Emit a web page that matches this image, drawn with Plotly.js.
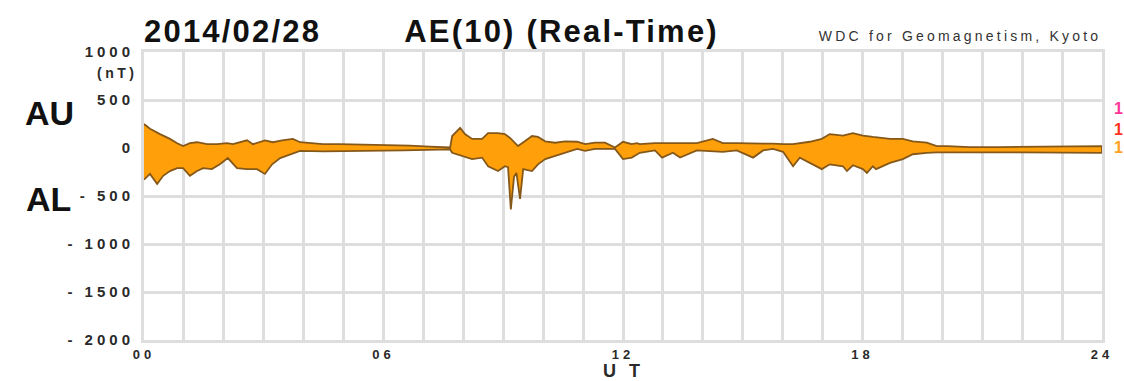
<!DOCTYPE html>
<html>
<head>
<meta charset="utf-8">
<script src="https://cdn.plot.ly/plotly-3.0.1.min.js"></script>
<style>
html,body{margin:0;padding:0;background:#fff;}
#chart{width:1124px;height:381px;}
#chart g.annotation[data-index="0"] text,
#chart g.annotation[data-index="1"] text{letter-spacing:2.2px;}
#chart g.annotation[data-index="2"] text{letter-spacing:3.2px;}
#chart g.annotation[data-index="3"] text{letter-spacing:3.5px;}
#chart g.annotation[data-index="9"] text{letter-spacing:4px;}
#chart g.ytick text, #chart g.xtick text{letter-spacing:4px;}
</style>
</head>
<body>
<div id="chart"></div>
<script>
// AU (upper envelope), hours UT and nT
const auHours = [0.00,0.15,0.40,0.65,0.83,0.98,1.15,1.33,1.58,1.83,2.08,2.23,2.58,2.73,3.03,3.23,3.46,3.73,3.91,4.08,4.48,4.91,5.41,6.16,6.66,7.16,7.67,7.72,7.92,8.04,8.22,8.47,8.62,8.87,9.04,9.17,9.37,9.54,9.72,9.87,10.05,10.30,10.55,10.85,11.05,11.30,11.55,11.80,12.00,12.22,12.35,12.42,12.80,13.25,13.43,13.85,14.25,14.50,14.85,15.26,15.51,15.76,16.01,16.26,16.68,16.98,17.18,17.51,17.76,18.01,18.26,18.69,19.01,19.26,19.61,19.86,20.12,20.69,21.44,22.19,22.95,23.45,24.00];
const auValues = [250,200,145,95,50,20,50,60,40,40,50,40,80,40,80,60,80,95,60,55,40,40,35,35,25,15,5,125,210,145,95,95,155,155,145,105,20,70,125,115,70,55,70,65,40,55,55,5,65,40,50,40,50,50,50,50,95,50,50,50,50,45,40,40,65,95,145,130,155,130,115,95,95,70,55,20,20,10,10,15,15,20,20];
// AL (lower envelope), hours UT and nT
const alHours = [0.00,0.15,0.33,0.48,0.65,0.83,0.98,1.15,1.33,1.48,1.70,1.90,2.10,2.33,2.58,2.83,3.03,3.21,3.41,3.66,3.91,4.50,5.50,6.50,7.20,7.67,7.72,8.22,8.47,8.62,8.87,9.04,9.12,9.19,9.27,9.33,9.42,9.50,9.72,9.87,10.05,10.30,10.55,10.85,11.05,11.30,11.80,12.00,12.22,12.42,12.80,12.98,13.25,13.43,13.85,14.50,14.85,15.26,15.51,15.76,16.01,16.26,16.43,16.51,16.68,16.98,17.18,17.51,17.61,17.76,18.01,18.11,18.26,18.34,18.69,19.01,19.26,19.61,19.86,20.12,21.00,22.00,23.00,24.00];
const alValues = [-330,-270,-375,-290,-240,-210,-210,-290,-240,-210,-220,-170,-105,-210,-220,-220,-270,-170,-105,-65,-30,-35,-30,-25,-20,-15,-50,-115,-100,-190,-240,-190,-200,-640,-300,-260,-530,-220,-240,-170,-115,-85,-50,-10,-30,-10,-10,-115,-100,-50,-25,-100,-50,-100,-25,-40,-25,-100,-25,-10,-40,-190,-100,-115,-155,-220,-170,-190,-240,-180,-220,-260,-190,-220,-155,-115,-65,-50,-45,-40,-45,-45,-45,-50];

const yTickVals = [-2000,-1500,-1000,-500,0,500,1000];
const yTickText = ['- 2000','- 1500','- 1000','- 500','0','500','1000'];
const xTickVals = Array.from({length:25},(_,i)=>i);
const xTickText = xTickVals.map(h => (h % 6 === 0 ? String(h).padStart(2,'0') : ''));

const polyX = auHours.concat(alHours.slice().reverse());
const polyY = auValues.concat(alValues.slice().reverse());

const FONT = 'Liberation Sans, Arial, Helvetica, sans-serif';

const traces = [{
  x: polyX, y: polyY, type: 'scatter', mode: 'lines',
  fill: 'toself', fillcolor: '#ffa00a',
  line: {color: '#85581a', width: 1.8, shape: 'linear'},
  hoverinfo: 'skip', showlegend: false
}];

const grid = '#dedede';
function ann(text, x, xshift, yshift, xanchor, size, color) {
  return {text: text, xref: 'paper', yref: 'paper', x: x, y: 1.0, xshift: xshift, yshift: yshift,
          xanchor: xanchor, yanchor: 'middle', showarrow: false, borderpad: 0,
          font: {family: FONT, size: size, color: color}};
}
const layout = {
  width: 1124, height: 381,
  margin: {l: 144, r: 22, t: 52, b: 41},
  paper_bgcolor: '#fff', plot_bgcolor: '#fff',
  showlegend: false,
  xaxis: {
    range: [0, 24], tickvals: xTickVals, ticktext: xTickText.map(t => t ? '<b>' + t + '</b>' : ''),
    showgrid: true, gridcolor: grid, gridwidth: 3,
    showline: true, linecolor: grid, linewidth: 3, mirror: true,
    zeroline: false, ticks: '', ticklabelstandoff: 0,
    tickfont: {family: FONT, size: 13, color: '#2a2a2a'}
  },
  yaxis: {
    range: [-2000, 1000], tickvals: yTickVals, ticktext: yTickText.map(t => '<b>' + t + '</b>'),
    showgrid: true, gridcolor: grid, gridwidth: 3,
    showline: true, linecolor: grid, linewidth: 3, mirror: true,
    zeroline: false, ticks: '', ticklabelstandoff: 4,
    tickfont: {family: FONT, size: 15, color: '#2a2a2a'}
  },
  annotations: [
    ann('<b>2014/02/28</b>', 0, 10, 21, 'left', 31, '#111'),
    ann('<b>AE(10) (Real-Time)</b>', (405 - 144) / 958, 18, 21, 'left', 31, '#111'),
    ann('WDC for Geomagnetism, Kyoto', 1.0, -43, 16, 'right', 14, '#333'),
    ann('<b>(nT)</b>', 0, -13, -21, 'right', 14, '#2a2a2a'),
    ann('<b>AU</b>', 0, -69, -61, 'right', 34, '#111'),
    ann('<b>AL</b>', 0, -72, -147, 'right', 34, '#111'),
    ann('<b>1</b>', 1.0, 11, -56, 'left', 16, '#ff3399'),
    ann('<b>1</b>', 1.0, 11, -77, 'left', 16, '#ff3322'),
    ann('<b>1</b>', 1.0, 11, -95, 'left', 16, '#ffa020'),
    {text: '<b>U T</b>', xref: 'paper', yref: 'paper', x: 0.5, y: 0, xshift: 0, yshift: -31,
     xanchor: 'center', yanchor: 'middle', showarrow: false, borderpad: 0,
     font: {family: FONT, size: 18, color: '#2a2a2a'}}
  ]
};

Plotly.newPlot('chart', traces, layout, {displayModeBar: false, staticPlot: true});
</script>
</body>
</html>
